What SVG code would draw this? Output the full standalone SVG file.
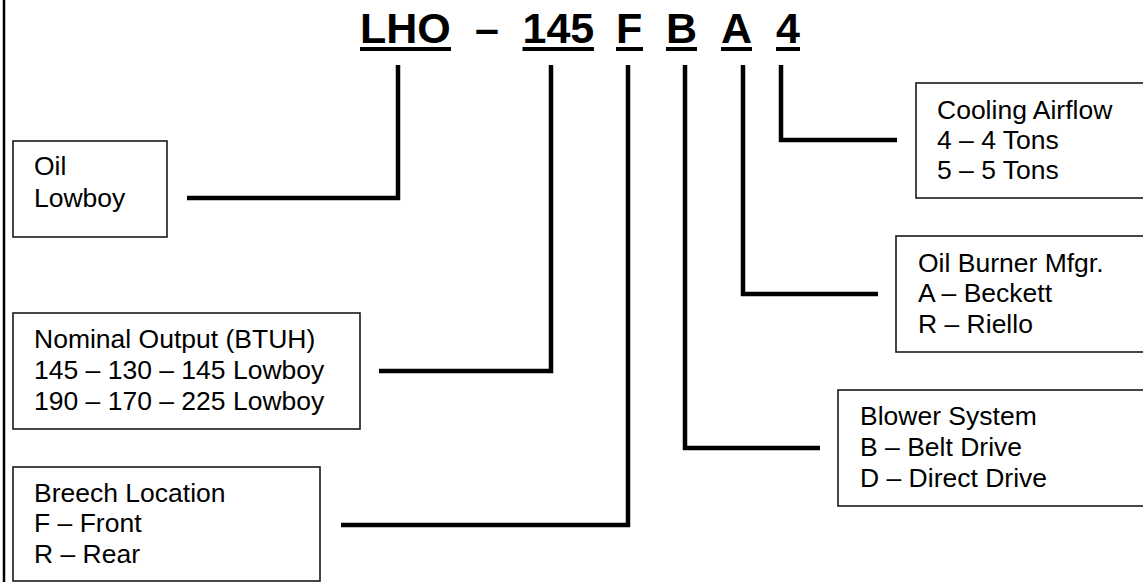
<svg xmlns="http://www.w3.org/2000/svg" width="1143" height="582" viewBox="0 0 1143 582">
<style>
.t{font-family:"Liberation Sans",Arial,sans-serif;font-size:26.5px;fill:#000}
.h{font-family:"Liberation Sans",Arial,sans-serif;font-size:43px;font-weight:bold;fill:#000}
.box{fill:#fff;stroke:#1a1a1a;stroke-width:1.6}
.con{fill:none;stroke:#000;stroke-width:4.5;stroke-linejoin:miter;stroke-linecap:butt}
</style>
<rect x="0" y="0" width="1143" height="582" fill="#fff"/>
<line x1="4" y1="0" x2="4" y2="582" stroke="#000" stroke-width="2.5"/>
<g id="title">
<text class="h" x="360" y="43">LHO</text>
<text class="h" x="475" y="43">–</text>
<text class="h" x="522.5" y="43">145</text>
<text class="h" x="616" y="43">F</text>
<text class="h" x="666" y="43">B</text>
<text class="h" x="721" y="43">A</text>
<text class="h" x="776" y="43">4</text>
<rect x="360" y="47" width="91" height="4"/>
<rect x="522.5" y="47" width="71.5" height="4"/>
<rect x="616" y="47" width="27" height="4"/>
<rect x="666" y="47" width="31" height="4"/>
<rect x="721" y="47" width="31" height="4"/>
<rect x="776" y="47" width="24" height="4"/>
</g>
<g id="connectors">
<path class="con" d="M398,65 V198 H187"/>
<path class="con" d="M551,65 V371 H379"/>
<path class="con" d="M628,65 V525 H341"/>
<path class="con" d="M685,65 V448 H820"/>
<path class="con" d="M743,65 V294 H878"/>
<path class="con" d="M781,65 V140 H897"/>
</g>
<g id="oil">
<rect class="box" x="13" y="141" width="154" height="96"/>
<text class="t" x="34" y="175">Oil</text>
<text class="t" x="34" y="207">Lowboy</text>
</g>
<g id="nominal">
<rect class="box" x="13" y="313" width="347" height="116"/>
<text class="t" x="34" y="348">Nominal Output (BTUH)</text>
<text class="t" x="34" y="379">145 – 130 – 145 Lowboy</text>
<text class="t" x="34" y="410">190 – 170 – 225 Lowboy</text>
</g>
<g id="breech">
<rect class="box" x="13" y="467" width="307" height="114"/>
<text class="t" x="34" y="502">Breech Location</text>
<text class="t" x="34" y="532">F – Front</text>
<text class="t" x="34" y="563">R – Rear</text>
</g>
<g id="cooling">
<rect class="box" x="916" y="83" width="240" height="115"/>
<text class="t" x="937" y="119">Cooling Airflow</text>
<text class="t" x="937" y="149">4 – 4 Tons</text>
<text class="t" x="937" y="179">5 – 5 Tons</text>
</g>
<g id="burner">
<rect class="box" x="896" y="236" width="260" height="116"/>
<text class="t" x="918" y="272">Oil Burner Mfgr.</text>
<text class="t" x="918" y="302">A – Beckett</text>
<text class="t" x="918" y="333">R – Riello</text>
</g>
<g id="blower">
<rect class="box" x="838" y="390" width="320" height="116"/>
<text class="t" x="860" y="425">Blower System</text>
<text class="t" x="860" y="456">B – Belt Drive</text>
<text class="t" x="860" y="487">D – Direct Drive</text>
</g>
</svg>
